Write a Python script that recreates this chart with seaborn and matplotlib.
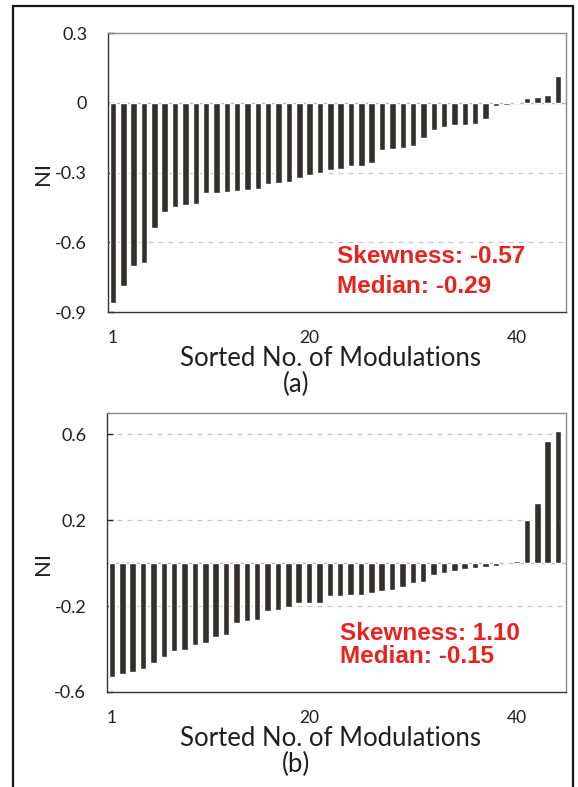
import seaborn as sns
import matplotlib.pyplot as plt
from matplotlib.patches import Rectangle
import pandas as pd

# sorted NI values of the 44 modulations
ni_a = [-0.86, -0.79, -0.70, -0.69, -0.54, -0.47, -0.45, -0.44, -0.435, -0.39,
        -0.39, -0.385, -0.38, -0.375, -0.37, -0.35, -0.345, -0.34, -0.325, -0.31,
        -0.30, -0.29, -0.285, -0.272, -0.27, -0.26, -0.205, -0.197, -0.193, -0.187,
        -0.152, -0.117, -0.104, -0.097, -0.097, -0.093, -0.071, -0.016, -0.009, 0.0,
        0.02, 0.023, 0.035, 0.116]
ni_b = [-0.53, -0.514, -0.509, -0.494, -0.467, -0.438, -0.411, -0.403, -0.381, -0.373,
        -0.344, -0.333, -0.28, -0.269, -0.263, -0.222, -0.217, -0.202, -0.186, -0.186,
        -0.186, -0.155, -0.151, -0.150, -0.148, -0.141, -0.129, -0.125, -0.113, -0.091,
        -0.088, -0.053, -0.047, -0.038, -0.027, -0.020, -0.019, -0.013, 0.0, 0.009,
        0.20, 0.282, 0.571, 0.616]
skew_a, median_a = "-0.57", "-0.29"
skew_b, median_b = "1.10", "-0.15"

yticks_a = [0.3, 0, -0.3, -0.6, -0.9]
yticklabels_a = ["0.3", "0", "-0.3", "-0.6", "-0.9"]
yticks_b = [0.6, 0.2, -0.2, -0.6]
yticklabels_b = ["0.6", "0.2", "-0.2", "-0.6"]
xtick_nums = [1, 20, 40]

sns.set_theme(style="white")
plt.rcParams['font.family'] = ['Lato', 'DejaVu Sans']

W, H = 578, 787
fig = plt.figure(figsize=(W / 100, H / 100), dpi=100)

# outer black frame
fig.add_artist(Rectangle((13 / W, -0.02), (573 - 13) / W, 1.02 - 6 / H,
                         transform=fig.transFigure, fill=False,
                         edgecolor='#1a1a1a', linewidth=1.6))

TXT = '#1f1f1f'


def panel(px_left, px_top, px_right, px_bottom, vals, ylim, yticks, yticklabels,
          grid_at, skew, med, txt_pos, tag, nil_y):
    ax = fig.add_axes([px_left / W, 1 - px_bottom / H,
                       (px_right - px_left) / W, (px_bottom - px_top) / H])
    df = pd.DataFrame({'n': range(1, len(vals) + 1), 'ni': vals})
    sns.barplot(data=df, x='n', y='ni', color='#332f2f', saturation=1,
                width=0.63, ax=ax, zorder=2)
    ax.axhline(0, color='#b5b5b5', lw=1.0, zorder=1)
    for g in grid_at:
        ax.axhline(g, color='#cbc5c5', lw=0.9, ls=(0, (4, 4)), zorder=0)
    ax.set_ylim(*ylim)
    ax.set_xlim(-0.48, len(vals) - 0.23)
    ax.set_yticks(yticks)
    ax.set_yticklabels(yticklabels)
    ax.set_xticks([k - 1 for k in xtick_nums])
    ax.set_xticklabels([str(k) for k in xtick_nums])
    ax.tick_params(axis='y', direction='in', length=4, width=1, color='#222222',
                   labelsize=13, labelcolor=TXT, pad=15, left=True)
    ax.tick_params(axis='x', length=0, labelsize=12.5, labelcolor=TXT, pad=13)
    for side in ['top', 'right']:
        ax.spines[side].set_color('#8a8a8a')
        ax.spines[side].set_linewidth(1.0)
    for side in ['left', 'bottom']:
        ax.spines[side].set_color('#333333')
        ax.spines[side].set_linewidth(1.0)
    h = px_bottom - px_top
    w = px_right - px_left
    ax.set_ylabel('NI', fontsize=16, color=TXT)
    ax.yaxis.label.set_va('center')
    ax.yaxis.set_label_coords((43 - px_left) / w, nil_y)
    ax.set_xlabel('Sorted No. of Modulations', fontsize=18.5, color=TXT)
    ax.xaxis.label.set_va('baseline')
    ax.xaxis.set_label_coords((330 - px_left) / w, -54 / h)
    ax.text((296 - px_left) / w, -72 / h, tag, transform=ax.transAxes,
            ha='center', va='center', fontsize=18.5, color=TXT)
    tx, y1, y2 = txt_pos
    ax.text(tx, y1, 'Skewness: ' + skew, transform=ax.transAxes, ha='left',
            va='baseline', fontsize=17.5, fontweight='bold', color='#e8231f',
            family='Liberation Sans')
    ax.text(tx, y2, 'Median: ' + med, transform=ax.transAxes, ha='left',
            va='baseline', fontsize=17.5, fontweight='bold', color='#e8231f',
            family='Liberation Sans')
    return ax


panel(108, 33, 566, 312, ni_a, (-0.9, 0.3), yticks_a, yticklabels_a,
      [-0.3, -0.6], skew_a, median_a, (0.5, 0.176, 0.068), '(a)', 0.495)
panel(107, 413, 566, 692, ni_b, (-0.6, 0.7), yticks_b, yticklabels_b,
      [0.6, 0.2, -0.2], skew_b, median_b, (0.508, 0.186, 0.104), '(b)', 0.462)

fig.savefig('out.png', dpi=100)
